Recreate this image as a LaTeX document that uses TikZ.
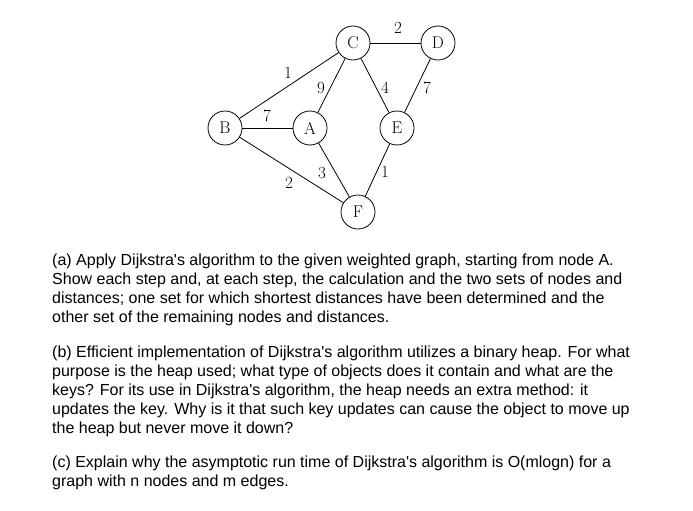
\documentclass[tikz,border=0pt]{standalone}
\usepackage{fontspec}
\newfontfamily\sans{Liberation Sans}
\begin{document}
\begin{tikzpicture}[x=1pt,y=-1pt,
  v/.style={circle,draw,line width=0.8pt,minimum size=34pt,inner sep=0pt,font=\fontsize{17}{17}\selectfont},
  w/.style={font=\fontsize{17}{17}\selectfont},
  e/.style={line width=0.8pt},
  para/.style={anchor=north west,align=left,inner sep=0pt,font=\sans\fontsize{16}{19}\selectfont}]
\useasboundingbox (0,0) rectangle (693,511);
\node[v] (C) at (353,43) {C};
\node[v] (D) at (438,43) {D};
\node[v] (B) at (225,128) {B};
\node[v] (A) at (310,128) {A};
\node[v] (E) at (397,128) {E};
\node[v] (F) at (358,212) {F};
\draw[e] (C) -- (D);
\draw[e] (B) -- (C);
\draw[e] (A) -- (C);
\draw[e] (C) -- (E);
\draw[e] (D) -- (E);
\draw[e] (B) -- (A);
\draw[e] (B) -- (F);
\draw[e] (A) -- (F);
\draw[e] (E) -- (F);
\node[w] (w1) at (398,28) {2};
\node[w] (w2) at (288,73) {1};
\node[w] (w3) at (321,88) {9};
\node[w] (w4) at (385,88) {4};
\node[w] (w5) at (427,88) {7};
\node[w] (w6) at (267,116) {7};
\node[w] (w7) at (322,173) {3};
\node[w] (w8) at (385,172) {1};
\node[w] (w9) at (289,183) {2};
\node[para] (ta) at (52,254) {(a) Apply Dijkstra's algorithm to the given weighted graph, starting from node A.\\Show each step and, at each step, the calculation and the two sets of nodes and\\distances; one set for which shortest distances have been determined and the\\other set of the remaining nodes and distances.};
\node[para] (tb) at (52,346) {(b) Efficient implementation of Dijkstra's algorithm utilizes a binary heap. For what\\purpose is the heap used; what type of objects does it contain and what are the\\keys? For its use in Dijkstra's algorithm, the heap needs an extra method: it\\updates the key. Why is it that such key updates can cause the object to move up\\the heap but never move it down?};
\node[para] (tc) at (52,456) {(c) Explain why the asymptotic run time of Dijkstra's algorithm is O(mlogn) for a\\graph with n nodes and m edges.};
\end{tikzpicture}
\end{document}
